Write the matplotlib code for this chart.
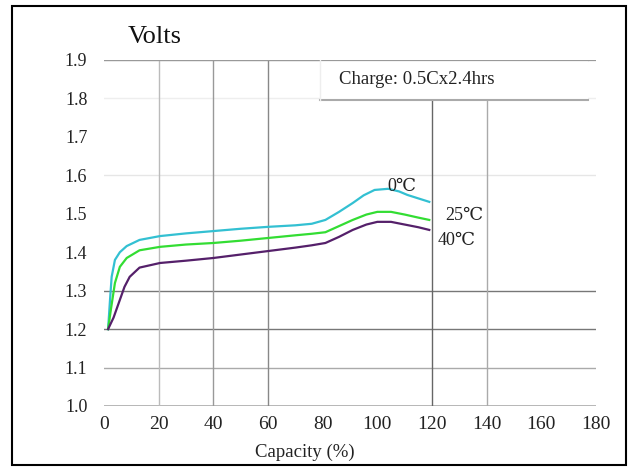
import matplotlib
matplotlib.use('Agg')
import matplotlib.pyplot as plt
import matplotlib.patches as patches

plt.rcParams['font.family'] = ['Liberation Serif', 'DejaVu Serif']

# Datos
cap_0 = [1.5, 2.2, 2.8, 4, 5.8, 8.3, 13, 20.5, 30, 40, 50, 60, 70, 76, 81, 86, 91, 95, 99, 104, 108, 111, 115, 119]
v_0 = [1.20, 1.276, 1.336, 1.38, 1.40, 1.416, 1.432, 1.442, 1.449, 1.455, 1.461, 1.466, 1.470, 1.474,
       1.484, 1.505, 1.528, 1.548, 1.562, 1.565, 1.558, 1.549, 1.540, 1.531]

cap_25 = [1.5, 2.5, 4, 5.8, 8.3, 13, 20.5, 30, 40, 50, 60, 70, 76, 81, 86, 91, 96, 100, 105, 110, 115, 119]
v_25 = [1.20, 1.25, 1.32, 1.362, 1.385, 1.405, 1.414, 1.42, 1.424, 1.43, 1.437, 1.444, 1.448, 1.452,
        1.468, 1.484, 1.498, 1.505, 1.505, 1.498, 1.49, 1.484]

cap_40 = [1.5, 3.5, 5.8, 7.5, 9.4, 13, 20.5, 30, 40, 50, 60, 70, 76, 81, 86, 91, 96, 100, 105, 110, 115, 119]
v_40 = [1.20, 1.23, 1.276, 1.31, 1.336, 1.36, 1.372, 1.378, 1.385, 1.394, 1.403, 1.412, 1.418, 1.424,
        1.44, 1.458, 1.472, 1.479, 1.479, 1.472, 1.465, 1.458]

x_ticks = [0, 20, 40, 60, 80, 100, 120, 140, 160, 180]
y_ticks = [1.0, 1.1, 1.2, 1.3, 1.4, 1.5, 1.6, 1.7, 1.8, 1.9]

fig = plt.figure(figsize=(6.3, 4.67), dpi=100)
ax = fig.add_axes([104/630, 1 - 406/467, 492/630, 346/467])
ax.set_xlim(0, 177)
ax.set_ylim(1.0, 1.9)

# Marco exterior
fig.patches.append(patches.Rectangle((12/630, 2/467), 614/630, 459/467, transform=fig.transFigure,
                                     fill=False, edgecolor='black', linewidth=1.5))

# Rejilla irregular como en el original
hlines = [(1.9, '#999999', 1.6), (1.8, '#eeeeee', 1.0), (1.6, '#e6e6e6', 1.0), (1.3, '#777777', 1.0),
          (1.2, '#777777', 1.0), (1.1, '#aaaaaa', 1.0), (1.0, '#aaaaaa', 1.2)]
for yv, c, lw in hlines:
    ax.axhline(yv, color=c, linewidth=lw, zorder=1)
vlines = [(20, '#bbbbbb', 1.9), (40, '#999999', 1.9), (60, '#888888', 1.9), (120, '#666666', 1.8), (140, '#aaaaaa', 1.8)]
for xv, c, top in vlines:
    ax.plot([xv, xv], [1.0, top], color=c, linewidth=1.0, zorder=1)

# Recuadro de carga
box = patches.Rectangle((79, 1.796), 98, 0.104, facecolor='white', edgecolor='none', zorder=2)
ax.add_patch(box)
ax.plot([79, 177], [1.797, 1.797], color='#aaaaaa', linewidth=1.5, zorder=3)
ax.plot([0, 177], [1.9, 1.9], color='#999999', linewidth=1.6, zorder=3)
ax.plot([79, 79], [1.797, 1.9], color='#eeeeee', linewidth=1.0, zorder=3)
ax.text(86, 1.848, 'Charge: 0.5Cx2.4hrs', fontsize=13.5, va='center', ha='left', color='#222222', zorder=4)

ax.plot(cap_0, v_0, color='#33c0d2', linewidth=1.6, zorder=5)
ax.plot(cap_25, v_25, color='#33dd33', linewidth=1.6, zorder=5)
ax.plot(cap_40, v_40, color='#55206a', linewidth=1.6, zorder=5)

ax.text(109, 1.572, '0℃', fontsize=13, ha='center', va='center', color='#222222', zorder=6)
ax.text(132, 1.495, '25℃', fontsize=13, ha='center', va='center', color='#222222', zorder=6)
ax.text(129, 1.43, '40℃', fontsize=13, ha='center', va='center', color='#222222', zorder=6)

for s in ax.spines.values():
    s.set_visible(False)
ax.set_xticks(x_ticks)
ax.set_yticks(y_ticks)
ax.set_yticklabels([f'{t:.1f}' for t in y_ticks])
ax.tick_params(length=0, labelsize=13, colors='#222222')
ax.tick_params(axis='x', pad=7, labelsize=14)
ax.tick_params(axis='y', pad=12)

fig.text(155/630, 1 - 37/467, 'Volts', fontsize=19, ha='center', va='center', color='#111111')
fig.text(305/630, 1 - 452/467, 'Capacity (%)', fontsize=13.5, ha='center', va='center', color='#222222')

fig.savefig('out.png', dpi=100, facecolor='white')
